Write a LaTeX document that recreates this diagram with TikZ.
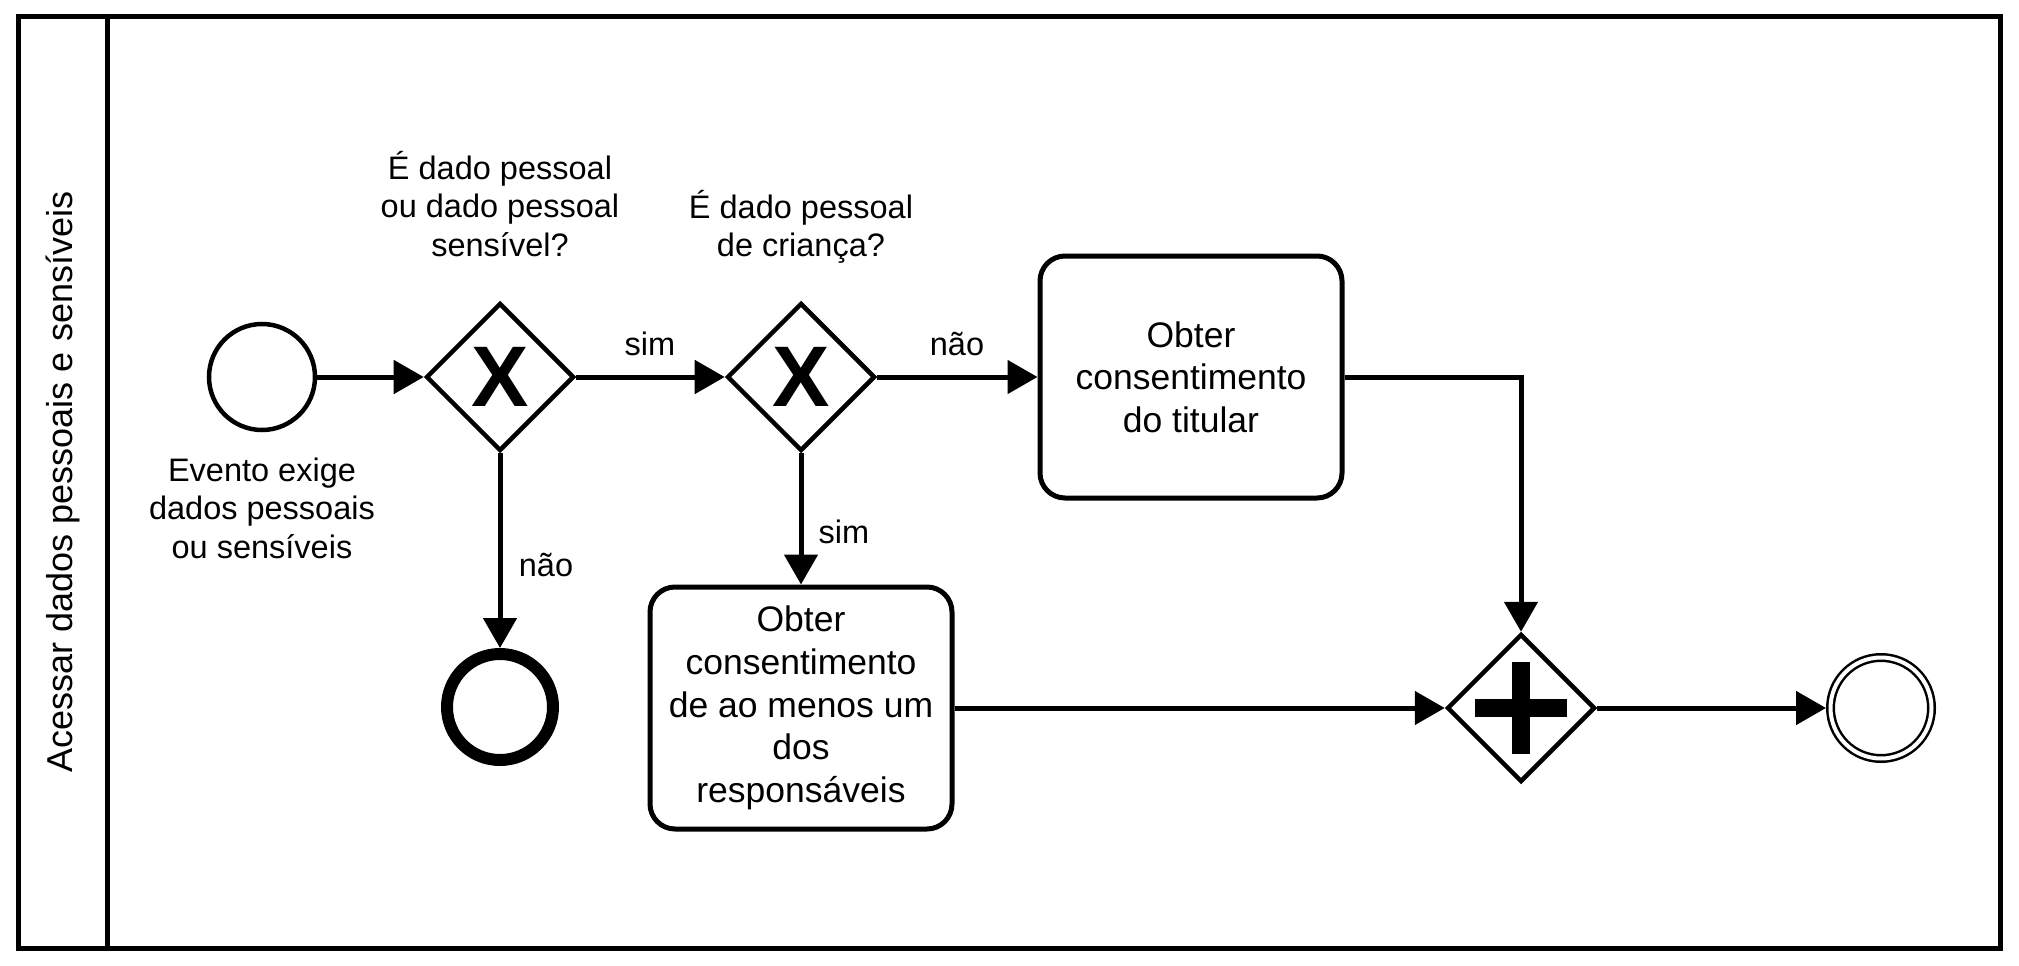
\documentclass[tikz,border=0pt]{standalone}
\usepackage{fontspec}
\setmainfont{Liberation Sans}
\usetikzlibrary{shapes.geometric,arrows.meta}
\newcommand{\lblfont}{\fontsize{32.5}{38.6}\selectfont}
\newcommand{\taskfont}{\fontsize{35.5}{42.6}\selectfont}
\tikzset{
  flow/.style={line width=5pt,-{Triangle[length=30pt,width=33pt]}},
  event/.style={circle,draw,line width=4.5pt,minimum size=106pt,inner sep=0pt},
  endevent/.style={circle,draw,line width=12pt,minimum size=106pt,inner sep=0pt},
  termevent/.style={circle,draw,line width=2.5pt,double,double distance=4pt,minimum size=101pt,inner sep=0pt,outer sep=4.5pt},
  gate/.style={diamond,draw,line width=4.5pt,minimum size=148pt,inner sep=0pt,aspect=1},
  xgate/.style={gate,font=\fontsize{86}{86}\selectfont\bfseries},
  plusgate/.style={gate,path picture={
    \fill ([xshift=-46pt,yshift=-9pt]path picture bounding box.center) rectangle ++(92pt,18pt);
    \fill ([xshift=-9pt,yshift=-46pt]path picture bounding box.center) rectangle ++(18pt,92pt);}},
  task/.style={rectangle,draw,line width=5pt,rounded corners=25pt,minimum width=302pt,minimum height=242pt,align=center,font=\taskfont},
  lbl/.style={align=center,font=\lblfont},
}
\begin{document}
\begin{tikzpicture}[x=1pt,y=-1pt]
\useasboundingbox (0,0) rectangle (2019,966);
% raia
\draw[line width=5pt] (18,17) rectangle (2000,948);
\draw[line width=5pt] (107,17) -- (107,948);
\node[rotate=90,font=\fontsize{36}{43}\selectfont] (raia) at (63,482) {Acessar dados pessoais e sensíveis};
% eventos e gateways
\node[event] (inicio) at (262,377) {};
\node[lbl] (inicio-txt) at (262,508) {Evento exige\\dados pessoais\\ou sensíveis};
\node[xgate] (g1) at (500,377) {X};
\node[lbl] (g1-txt) at (500,204) {É dado pessoal\\ou dado pessoal\\sensível?};
\node[xgate] (g2) at (801,377) {X};
\node[lbl] (g2-txt) at (801,227) {É dado pessoal\\de criança?};
\node[endevent] (fim1) at (500,707) {};
% tarefas
\node[task] (titular) at (1191,377) {Obter\\consentimento\\do titular};
\node[task] (resp) at (801,708) {Obter\\consentimento\\de ao menos um\\dos\\responsáveis};
\node[plusgate] (g3) at (1521,708) {};
\node[termevent] (fim2) at (1881,708) {};
% fluxos
\draw[flow] (inicio) -- (g1);
\draw[flow] (g1) -- (g2);
\draw[flow] (g2) -- (titular);
\draw[flow] (g1) -- (fim1);
\draw[flow] (g2) -- (resp);
\draw[flow] (titular.east) -| (g3.north);
\draw[flow] (resp) -- (g3);
\draw[flow] (g3) -- (fim2);
% rotulos
\node[lbl] (sim1) at (650,344) {sim};
\node[lbl] (nao1) at (957,344) {não};
\node[lbl] (nao2) at (546,565) {não};
\node[lbl] (sim2) at (844,532) {sim};
\end{tikzpicture}
\end{document}
